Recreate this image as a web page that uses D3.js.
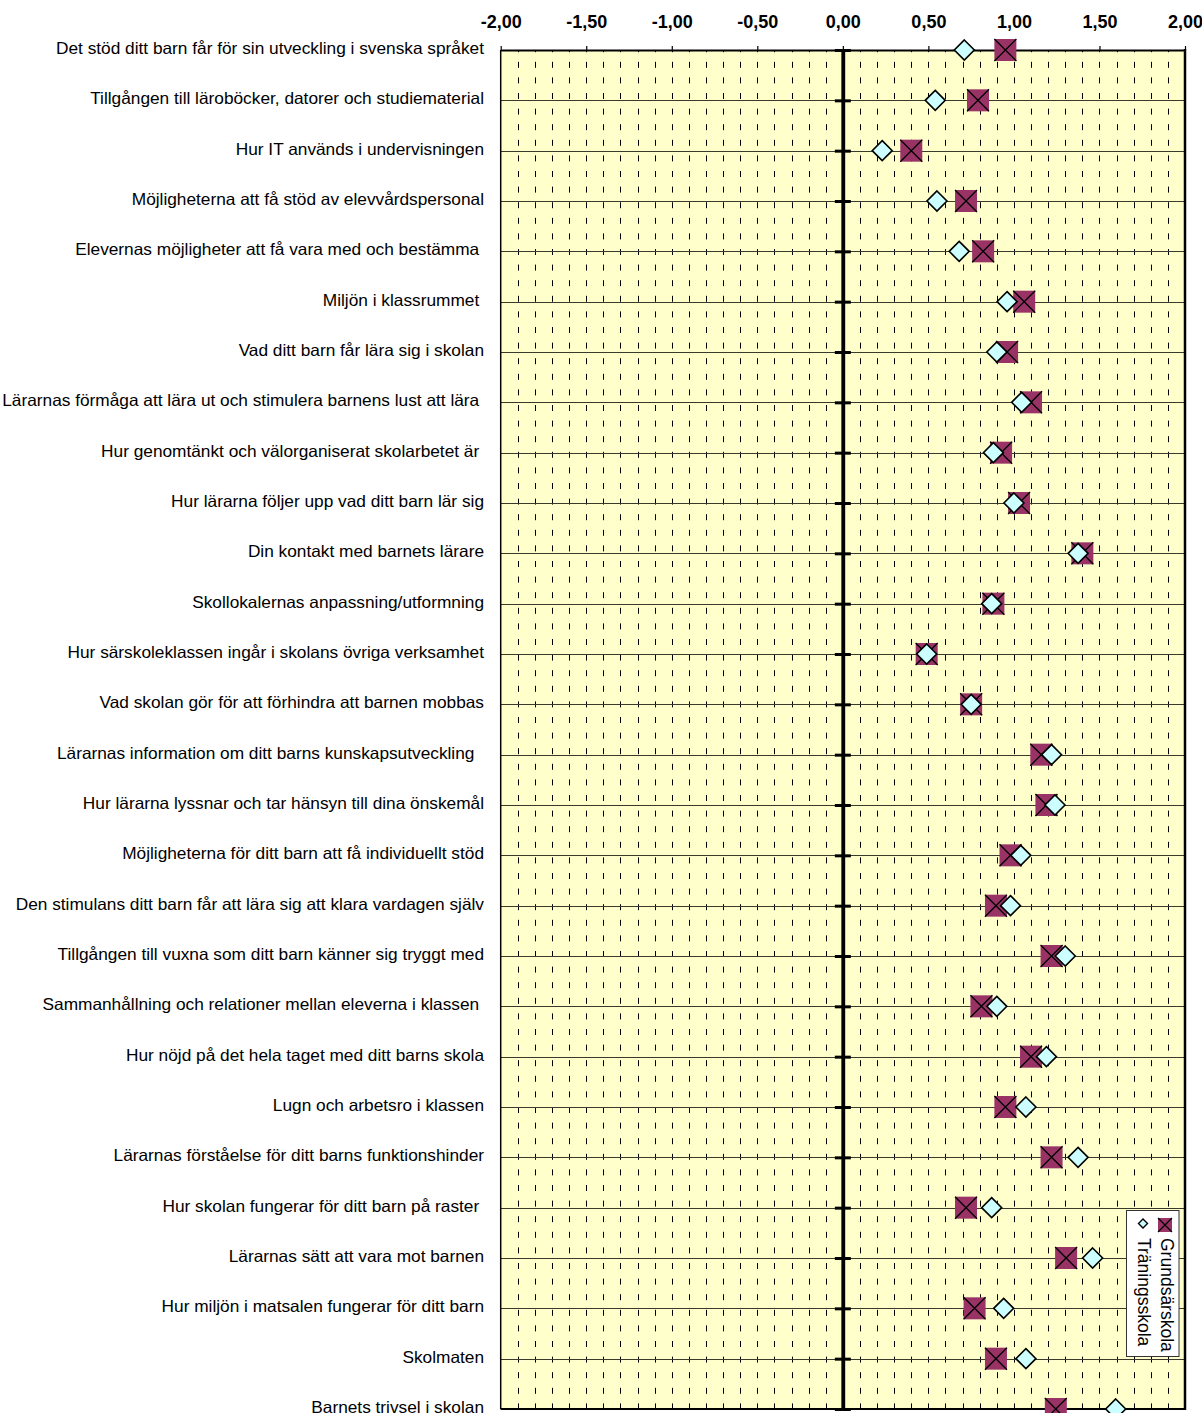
<!DOCTYPE html>
<html>
<head>
<meta charset="utf-8">
<script src="https://cdn.jsdelivr.net/npm/d3@7"></script>
<style>
  body { margin: 0; background: #fff; }
  svg { display: block; }
  .cat { white-space: pre; }
</style>
</head>
<body>
<script>
const categories = [
  "Det stöd ditt barn får för sin utveckling i svenska språket",
  "Tillgången till läroböcker, datorer och studiematerial",
  "Hur IT används i undervisningen",
  "Möjligheterna att få stöd av elevvårdspersonal",
  "Elevernas möjligheter att få vara med och bestämma ",
  "Miljön i klassrummet ",
  "Vad ditt barn får lära sig i skolan",
  "Lärarnas förmåga att lära ut och stimulera barnens lust att lära ",
  "Hur genomtänkt och välorganiserat skolarbetet är ",
  "Hur lärarna följer upp vad ditt barn lär sig",
  "Din kontakt med barnets lärare",
  "Skollokalernas anpassning/utformning",
  "Hur särskoleklassen ingår i skolans övriga verksamhet",
  "Vad skolan gör för att förhindra att barnen mobbas",
  "Lärarnas information om ditt barns kunskapsutveckling  ",
  "Hur lärarna lyssnar och tar hänsyn till dina önskemål",
  "Möjligheterna för ditt barn att få individuellt stöd",
  "Den stimulans ditt barn får att lära sig att klara vardagen själv",
  "Tillgången till vuxna som ditt barn känner sig tryggt med",
  "Sammanhållning och relationer mellan eleverna i klassen ",
  "Hur nöjd på det hela taget med ditt barns skola",
  "Lugn och arbetsro i klassen",
  "Lärarnas förståelse för ditt barns funktionshinder",
  "Hur skolan fungerar för ditt barn på raster ",
  "Lärarnas sätt att vara mot barnen",
  "Hur miljön i matsalen fungerar för ditt barn",
  "Skolmaten",
  "Barnets trivsel i skolan"
];

// Grundsärskola
const grundsarskola = [0.95, 0.79, 0.40, 0.72, 0.82, 1.06, 0.96, 1.10, 0.925, 1.03,
  1.40, 0.88, 0.49, 0.75, 1.16, 1.19, 0.98, 0.895, 1.22, 0.81,
  1.10, 0.95, 1.22, 0.72, 1.305, 0.77, 0.895, 1.245];

// Träningsskola
const traningsskola = [0.71, 0.54, 0.23, 0.55, 0.68, 0.96, 0.90, 1.045, 0.88, 1.00,
  1.375, 0.87, 0.49, 0.75, 1.22, 1.24, 1.04, 0.98, 1.30, 0.90,
  1.19, 1.07, 1.375, 0.87, 1.46, 0.94, 1.07, 1.595];

const xTicks = [-2, -1.5, -1, -0.5, 0, 0.5, 1, 1.5, 2];
const seriesNames = ["Grundsärskola", "Träningsskola"];

const [w, h] = [1202, 1413];
const plot = { left: 500.7, right: 1185, top: 50, bottom: 1409 };

const svg = d3.select("body").append("svg")
  .attr("width", w)
  .attr("height", h);

const x = d3.scaleLinear().domain([-2, 2]).range([plot.left, plot.right]);
const y = d3.scalePoint().domain(d3.range(categories.length)).range([plot.top, plot.bottom]);

// plot background
svg.append("rect")
  .attr("x", plot.left).attr("y", plot.top)
  .attr("width", plot.right - plot.left).attr("height", plot.bottom - plot.top)
  .attr("fill", "#ffffcc");

// minor dashed vertical gridlines every 0.1
const minor = d3.range(-19, 20).map(d => d / 10).filter(d => Math.abs(d) > 1e-9);
svg.append("g").selectAll("line")
  .data(minor)
  .enter().append("line")
  .attr("x1", d => Math.round(x(d)) + 0.5).attr("x2", d => Math.round(x(d)) + 0.5)
  .attr("y1", plot.top).attr("y2", plot.bottom)
  .attr("stroke", "#000")
  .attr("stroke-width", 1)
  .attr("stroke-dasharray", "6,9.6")
  .attr("stroke-dashoffset", 3.8);

// horizontal gridlines at each category
svg.append("g").selectAll("line")
  .data(d3.range(categories.length))
  .enter().append("line")
  .attr("x1", plot.left).attr("x2", plot.right)
  .attr("y1", d => Math.round(y(d)) + 0.5).attr("y2", d => Math.round(y(d)) + 0.5)
  .attr("stroke", "#3a3a2a")
  .attr("stroke-width", 1.2);

// plot borders
svg.append("line").attr("x1", plot.left).attr("x2", plot.left)
  .attr("y1", plot.top).attr("y2", plot.bottom).attr("stroke", "#000").attr("stroke-width", 1.5);
svg.append("line").attr("x1", plot.right).attr("x2", plot.right)
  .attr("y1", plot.top - 1).attr("y2", plot.bottom + 1).attr("stroke", "#000").attr("stroke-width", 2.5);
svg.append("line").attr("x1", plot.left).attr("x2", plot.right)
  .attr("y1", plot.bottom).attr("y2", plot.bottom).attr("stroke", "#000").attr("stroke-width", 2);

// top x axis
const xAxis = d3.axisTop(x)
  .tickValues(xTicks)
  .tickSizeInner(4)
  .tickSizeOuter(0)
  .tickPadding(18)
  .tickFormat(d => d.toFixed(2).replace(".", ","));

const gx = svg.append("g")
  .attr("transform", `translate(0,${plot.top})`)
  .call(xAxis);
gx.select(".domain").attr("stroke", "#000").attr("stroke-width", 2);
gx.selectAll(".tick line").attr("stroke", "#000").attr("stroke-width", 1.2);
gx.selectAll(".tick text")
  .attr("font-family", "'Liberation Sans', Arial, sans-serif")
  .attr("font-size", 18)
  .attr("font-weight", "bold")
  .attr("fill", "#000");

// zero axis with crossing ticks
const yLeft = d3.axisLeft(y).tickSizeInner(8).tickSizeOuter(0).tickFormat("");
const yRight = d3.axisRight(y).tickSizeInner(8).tickSizeOuter(0).tickFormat("");
[yLeft, yRight].forEach(ax => {
  const g = svg.append("g")
    .attr("transform", `translate(${x(0)},0)`)
    .call(ax);
  g.select(".domain").attr("stroke", "#000").attr("stroke-width", 3.5);
  g.selectAll(".tick line").attr("stroke", "#000").attr("stroke-width", 3);
});

// category labels (narrow look: squeeze horizontally so the first label spans ~428px)
const labels = svg.append("g").selectAll("text")
  .data(categories)
  .enter().append("text")
  .attr("class", "cat")
  .attr("x", 0)
  .attr("y", 0)
  .attr("text-anchor", "end")
  .attr("font-family", "'Liberation Sans', Arial, sans-serif")
  .attr("font-size", 16.3)
  .attr("fill", "#000")
  .text(d => d);
const firstW = labels.node().getComputedTextLength();
const squeeze = 428 / firstW;
labels.attr("transform", (d, i) => `translate(484,${y(i) + 4}) scale(${squeeze},1)`);

// Grundsärskola: plum squares with an X
const sq = 22;
const g1 = svg.append("g").selectAll("g")
  .data(grundsarskola)
  .enter().append("g")
  .attr("transform", (d, i) => `translate(${x(d)},${y(i)})`);
g1.append("rect")
  .attr("x", -sq / 2).attr("y", -sq / 2)
  .attr("width", sq).attr("height", sq)
  .attr("fill", "#993366");
g1.append("path")
  .attr("d", `M${-sq / 2},${-sq / 2}L${sq / 2},${sq / 2}M${sq / 2},${-sq / 2}L${-sq / 2},${sq / 2}`)
  .attr("stroke", "#000")
  .attr("stroke-width", 1.3);

// Träningsskola: light cyan diamonds
const dm = 10;
svg.append("g").selectAll("path")
  .data(traningsskola)
  .enter().append("path")
  .attr("transform", (d, i) => `translate(${x(d)},${y(i)})`)
  .attr("d", `M0,${-dm}L${dm},0L0,${dm}L${-dm},0Z`)
  .attr("fill", "#ccffff")
  .attr("stroke", "#000")
  .attr("stroke-width", 1.6)
  .attr("stroke-linejoin", "miter");

// legend
const legend = svg.append("g");
legend.append("rect")
  .attr("x", 1126.5).attr("y", 1210.5)
  .attr("width", 52.5).attr("height", 146)
  .attr("fill", "#fff")
  .attr("stroke", "#333")
  .attr("stroke-width", 1);
legend.append("rect")
  .attr("x", 1158).attr("y", 1218)
  .attr("width", 14).attr("height", 14)
  .attr("fill", "#993366");
legend.append("path")
  .attr("d", "M1158,1218L1172,1232M1172,1218L1158,1232")
  .attr("stroke", "#000").attr("stroke-width", 1.2);
legend.append("path")
  .attr("d", "M1143,1219L1147.5,1223.5L1143,1228L1138.5,1223.5Z")
  .attr("fill", "#ccffff").attr("stroke", "#000").attr("stroke-width", 1.4);
legend.selectAll("text.leg")
  .data(seriesNames)
  .enter().append("text")
  .attr("class", "leg")
  .attr("transform", (d, i) => `translate(${i === 0 ? 1160.5 : 1138},1238) rotate(90)`)
  .attr("font-family", "'Liberation Sans', Arial, sans-serif")
  .attr("font-size", 17.5)
  .attr("fill", "#000")
  .text(d => d);
</script>
</body>
</html>
